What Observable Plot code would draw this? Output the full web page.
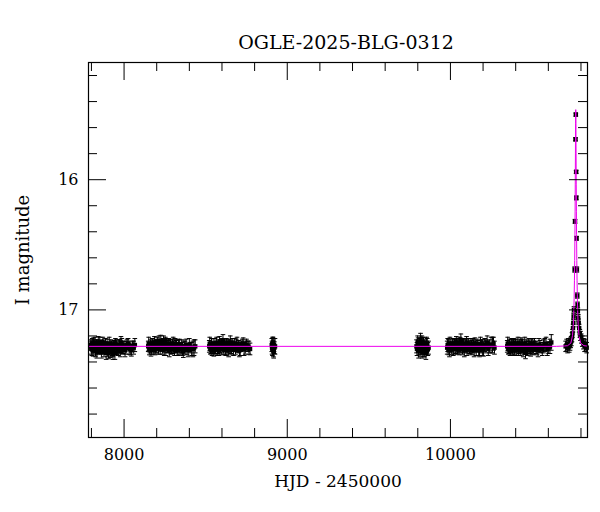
<!DOCTYPE html>
<html>
<head>
<meta charset="utf-8">
<script src="https://cdn.jsdelivr.net/npm/d3@7"></script>
<script src="https://cdn.jsdelivr.net/npm/@observablehq/plot@0.6"></script>
<style>
  html, body { margin: 0; padding: 0; background: white; }
</style>
</head>
<body>
<div id="chart"></div>
<script>
// ---- Data: [HJD-2450000, I mag, error] per observing season ----
const season1 = [
  [7796,17.27,.04],[7802,17.30,.05],[7808,17.28,.04],[7813,17.26,.045],[7819,17.29,.04],[7825,17.31,.05],[7831,17.27,.04],[7836,17.29,.035],[7842,17.25,.045],[7848,17.30,.04],
  [7855,17.28,.04],[7861,17.32,.05],[7867,17.27,.04],[7873,17.29,.045],[7880,17.30,.04],[7886,17.26,.04],[7893,17.28,.035],[7899,17.31,.05],[7905,17.33,.045],[7912,17.29,.04],
  [7919,17.27,.04],[7925,17.30,.05],[7932,17.34,.04],[7940,17.28,.045],[7947,17.26,.04],[7955,17.29,.05],[7963,17.31,.04],[7972,17.27,.04],[7981,17.25,.045],[7990,17.30,.04],
  [8000,17.28,.04],[8012,17.29,.05],[8025,17.26,.04],[8038,17.30,.045],[8052,17.28,.04],[8066,17.27,.05],
  [7799,17.29,.05],[7805,17.26,.04],[7810,17.31,.045],[7816,17.28,.05],[7822,17.25,.04],[7828,17.30,.045],[7833,17.32,.05],[7839,17.27,.04],[7845,17.29,.045],[7851,17.26,.05],
  [7858,17.30,.04],[7864,17.28,.045],[7870,17.25,.04],[7877,17.31,.05],[7883,17.29,.04],[7890,17.33,.05],[7896,17.27,.045],[7902,17.29,.04],[7909,17.26,.05],[7915,17.32,.045],
  [7922,17.28,.04],[7929,17.31,.05],[7936,17.29,.045],[7944,17.33,.05],[7951,17.27,.04],[7959,17.30,.045],[7968,17.28,.05],[7977,17.32,.04],[7986,17.27,.05],[7995,17.29,.045],
  [8006,17.31,.05],[8018,17.27,.045],[8031,17.29,.05],[8045,17.31,.045],[8059,17.29,.05]
];
const season2 = [
  [8148,17.28,.04],[8155,17.30,.045],[8162,17.27,.04],[8169,17.29,.05],[8176,17.26,.04],[8183,17.28,.04],[8190,17.30,.045],[8197,17.27,.04],[8204,17.25,.04],[8211,17.29,.05],
  [8218,17.27,.04],[8225,17.24,.045],[8232,17.28,.04],[8239,17.26,.04],[8246,17.30,.05],[8253,17.25,.04],[8260,17.27,.045],[8267,17.29,.04],[8274,17.26,.04],[8281,17.28,.05],
  [8289,17.30,.04],[8297,17.27,.045],[8305,17.29,.04],[8313,17.26,.04],[8321,17.28,.05],[8330,17.31,.04],[8339,17.27,.045],[8348,17.29,.04],[8358,17.30,.05],[8368,17.28,.04],
  [8380,17.27,.045],[8393,17.31,.05],[8407,17.29,.04],[8422,17.30,.06],[8436,17.28,.05],
  [8151,17.26,.05],[8158,17.29,.04],[8165,17.31,.045],[8172,17.27,.05],[8179,17.30,.04],[8186,17.25,.045],[8193,17.28,.05],[8200,17.29,.04],[8207,17.27,.045],[8214,17.25,.05],
  [8221,17.30,.04],[8228,17.27,.045],[8235,17.29,.05],[8242,17.24,.04],[8249,17.28,.045],[8256,17.30,.05],[8263,17.26,.04],[8270,17.28,.045],[8277,17.31,.05],[8285,17.27,.04],
  [8293,17.29,.045],[8301,17.26,.05],[8309,17.31,.04],[8317,17.28,.045],[8325,17.30,.05],[8334,17.27,.04],[8343,17.30,.045],[8353,17.28,.05],[8363,17.32,.045],[8374,17.29,.05],
  [8386,17.30,.045],[8400,17.27,.05],[8414,17.30,.05],[8429,17.29,.06]
];
const season3 = [
  [8522,17.28,.045],[8529,17.30,.04],[8536,17.27,.05],[8543,17.29,.04],[8550,17.31,.045],[8557,17.26,.04],[8564,17.28,.04],[8571,17.30,.05],[8578,17.27,.04],[8585,17.25,.045],
  [8592,17.29,.04],[8599,17.27,.04],[8606,17.24,.05],[8613,17.28,.04],[8620,17.30,.045],[8627,17.26,.04],[8634,17.28,.04],[8641,17.31,.05],[8648,17.27,.04],[8655,17.29,.045],
  [8663,17.26,.04],[8671,17.30,.05],[8679,17.28,.04],[8688,17.27,.045],[8697,17.29,.04],[8707,17.31,.05],[8718,17.28,.04],[8730,17.26,.045],[8743,17.29,.05],[8758,17.28,.04],[8772,17.30,.045],
  [8525,17.26,.05],[8532,17.29,.045],[8539,17.31,.04],[8546,17.27,.05],[8553,17.29,.045],[8560,17.30,.04],[8567,17.26,.05],[8574,17.29,.045],[8581,17.31,.04],[8588,17.28,.05],
  [8595,17.30,.045],[8602,17.26,.04],[8609,17.29,.05],[8616,17.27,.045],[8623,17.31,.04],[8630,17.29,.05],[8637,17.27,.045],[8644,17.29,.04],[8651,17.25,.05],[8659,17.30,.045],
  [8667,17.28,.04],[8675,17.27,.05],[8683,17.30,.045],[8692,17.26,.05],[8702,17.28,.045],[8712,17.30,.05],[8724,17.27,.045],[8736,17.30,.05],[8750,17.27,.045],[8765,17.29,.05]
];
const season4 = [
  [8905,17.27,.05],[8909,17.30,.05],[8913,17.25,.04],[8917,17.32,.05],[8921,17.29,.045],[8925,17.28,.06],
  [8907,17.29,.05],[8911,17.26,.05],[8915,17.31,.05],[8919,17.27,.05]
];
const season5 = [
  [9792,17.28,.05],[9799,17.25,.05],[9805,17.31,.06],[9811,17.27,.05],[9817,17.23,.05],[9822,17.29,.055],[9827,17.32,.05],[9832,17.26,.05],[9837,17.30,.06],[9843,17.28,.05],
  [9850,17.33,.05],[9858,17.27,.05],[9866,17.29,.05],
  [9795,17.30,.05],[9802,17.27,.055],[9808,17.29,.05],[9814,17.31,.05],[9819,17.27,.06],[9825,17.25,.05],[9830,17.29,.05],[9835,17.27,.055],[9840,17.31,.05],[9846,17.29,.05],
  [9854,17.26,.05],[9862,17.30,.05]
];
const season6 = [
  [9980,17.29,.05],[9987,17.27,.045],[9994,17.31,.05],[10001,17.28,.04],[10008,17.30,.045],[10015,17.26,.04],[10022,17.29,.05],[10029,17.27,.04],[10036,17.25,.045],[10043,17.30,.04],
  [10050,17.28,.04],[10057,17.26,.05],[10064,17.23,.045],[10071,17.29,.04],[10078,17.27,.04],[10085,17.31,.05],[10092,17.28,.04],[10099,17.25,.045],[10106,17.29,.04],[10113,17.27,.05],
  [10121,17.30,.04],[10129,17.28,.045],[10137,17.26,.04],[10145,17.31,.05],[10154,17.28,.04],[10163,17.27,.045],[10173,17.30,.05],[10184,17.26,.05],[10196,17.29,.06],[10210,17.27,.05],
  [10225,17.25,.05],[10240,17.28,.05],[10258,17.27,.06],[10270,17.29,.05],
  [9983,17.27,.05],[9990,17.30,.045],[9997,17.26,.05],[10004,17.29,.04],[10011,17.27,.045],[10018,17.30,.05],[10025,17.26,.04],[10032,17.29,.045],[10039,17.28,.05],[10046,17.26,.04],
  [10053,17.30,.045],[10060,17.28,.05],[10067,17.26,.04],[10074,17.30,.045],[10081,17.27,.05],[10088,17.29,.04],[10095,17.27,.045],[10102,17.30,.05],[10109,17.26,.04],[10117,17.29,.045],
  [10125,17.27,.05],[10133,17.30,.045],[10141,17.28,.05],[10150,17.26,.045],[10158,17.30,.05],[10168,17.28,.045],[10178,17.31,.05],[10190,17.28,.05],[10203,17.30,.055],[10217,17.28,.05],
  [10232,17.30,.05],[10249,17.27,.06],[10264,17.26,.05]
];
const season7 = [
  [10348,17.28,.045],[10355,17.30,.04],[10362,17.27,.045],[10369,17.29,.04],[10376,17.26,.04],[10383,17.28,.05],[10390,17.31,.04],[10397,17.27,.045],[10404,17.29,.04],[10411,17.28,.04],
  [10418,17.30,.05],[10425,17.27,.04],[10432,17.26,.045],[10439,17.29,.04],[10446,17.31,.05],[10453,17.28,.04],[10460,17.33,.045],[10468,17.27,.04],[10476,17.29,.05],[10484,17.28,.04],
  [10492,17.31,.045],[10501,17.26,.04],[10510,17.29,.05],[10520,17.28,.04],[10531,17.30,.045],[10543,17.27,.05],[10556,17.29,.04],[10570,17.28,.05],[10586,17.26,.05],[10602,17.29,.045],[10618,17.25,.06],
  [10351,17.26,.05],[10358,17.29,.045],[10365,17.31,.04],[10372,17.28,.05],[10379,17.30,.045],[10386,17.26,.04],[10393,17.29,.05],[10400,17.27,.045],[10407,17.31,.04],[10414,17.26,.05],
  [10421,17.29,.045],[10428,17.31,.04],[10435,17.28,.05],[10442,17.27,.045],[10449,17.30,.04],[10456,17.26,.05],[10464,17.29,.045],[10472,17.31,.04],[10480,17.27,.05],[10488,17.29,.045],
  [10496,17.28,.05],[10505,17.30,.045],[10515,17.27,.05],[10525,17.29,.045],[10537,17.31,.05],[10549,17.28,.045],[10563,17.30,.05],[10578,17.27,.05],[10594,17.30,.05],[10610,17.28,.055]
];
const seasonEvent = [
  [10706,17.28,.04],[10712,17.27,.045],[10718,17.29,.04],[10723,17.26,.04],[10728,17.28,.045],[10733,17.27,.04],[10737,17.25,.04],[10741,17.24,.035],[10745,17.21,.035],[10748,17.18,.03],
  [10751,17.14,.03],[10753,17.10,.03],[10755,17.05,.025],[10757,17.00,.025],
  [10761,16.69,.02],[10763.5,16.32,.015],[10766.5,15.69,.012],[10768.5,15.50,.012],[10770.5,15.94,.012],[10771.5,16.14,.015],[10773,16.45,.015],[10775,16.69,.02],[10777.5,16.89,.02],[10779,16.96,.02],
  [10781,17.01,.025],[10783,17.06,.025],[10786,17.10,.03],[10789,17.14,.03],[10793,17.18,.03],[10797,17.20,.035],[10802,17.22,.035],[10808,17.24,.04],[10815,17.26,.04],[10822,17.28,.04],[10829,17.27,.045],[10835,17.29,.04]
];
// Model light curve
const modelT = [7782, 10650, 10700, 10718, 10738, 10748, 10753, 10755.5, 10758, 10760, 10761.5, 10763, 10764, 10765, 10766, 10767, 10768,
                10769, 10770, 10771, 10772, 10773, 10774.5, 10776, 10778, 10780.5, 10783, 10788, 10798, 10818, 10840];
const modelM = [17.28, 17.28, 17.277, 17.275, 17.255, 17.198, 17.114, 17.037, 16.916, 16.772, 16.621, 16.419, 16.247, 16.040, 15.802, 15.571, 15.462,
                15.571, 15.802, 16.040, 16.247, 16.419, 16.621, 16.772, 16.916, 17.037, 17.114, 17.198, 17.255, 17.275, 17.278];
// Axis ticks and labels
const xMajor = [8000, 9000, 10000];
const xMinor = [7800, 8200, 8400, 8600, 8800, 9200, 9400, 9600, 9800, 10200, 10400, 10600, 10800];
const yMajor = [16, 17];
const yMinor = [15.2, 15.4, 15.6, 15.8, 16.2, 16.4, 16.6, 16.8, 17.2, 17.4, 17.6, 17.8];
const titleText = "OGLE-2025-BLG-0312";
const xLabel = "HJD - 2450000";
const yLabel = "I magnitude";

// ---- Build ----
const obs = [season1, season2, season3, season4, season5, season6, season7, seasonEvent]
  .flat().map(([t, m, e]) => ({t, m, e}));
const model = modelT.map((t, i) => ({t, m: modelM[i]}));

const W = 600, H = 512, mL = 88, mR = 13, mT = 62, mB = 75;
const fw = W - mL - mR, fh = H - mT - mB;
const majLen = 18, minLen = 9;

const cap = {
  draw(ctx, size) {
    const w = Math.sqrt(size) / 2;
    ctx.moveTo(-w, 0);
    ctx.lineTo(w, 0);
  }
};

const chart = Plot.plot({
  width: W, height: H,
  marginLeft: mL, marginRight: mR, marginTop: mT, marginBottom: mB,
  style: {fontFamily: "DejaVu Serif", fontSize: "16px", background: "white", color: "black"},
  x: {domain: [7782, 10840]},
  y: {domain: [15.1, 17.98], reverse: true},
  marks: [
    // error bars
    Plot.ruleX(obs, {x: "t", y1: d => d.m - d.e, y2: d => d.m + d.e, stroke: "black", strokeWidth: 1}),
    Plot.dot(obs, {x: "t", y: d => d.m - d.e, symbol: cap, r: 2.6, fill: "none", stroke: "black", strokeWidth: 1}),
    Plot.dot(obs, {x: "t", y: d => d.m + d.e, symbol: cap, r: 2.6, fill: "none", stroke: "black", strokeWidth: 1}),
    // points
    Plot.dot(obs, {x: "t", y: "m", symbol: "square", r: 2.5, fill: "black", stroke: "none"}),
    // model
    Plot.line(model, {x: "t", y: "m", stroke: "#ee00ee", strokeWidth: 1}),
    // frame
    Plot.frame({stroke: "black", strokeWidth: 1.2}),
    // inward ticks, bottom & top
    Plot.tickX(xMajor, {x: d => d, insetTop: fh - majLen, stroke: "black"}),
    Plot.tickX(xMajor, {x: d => d, insetBottom: fh - majLen, stroke: "black"}),
    Plot.tickX(xMinor, {x: d => d, insetTop: fh - minLen, stroke: "black"}),
    Plot.tickX(xMinor, {x: d => d, insetBottom: fh - minLen, stroke: "black"}),
    // inward ticks, left & right
    Plot.tickY(yMajor, {y: d => d, insetRight: fw - majLen, stroke: "black"}),
    Plot.tickY(yMajor, {y: d => d, insetLeft: fw - majLen, stroke: "black"}),
    Plot.tickY(yMinor, {y: d => d, insetRight: fw - minLen, stroke: "black"}),
    Plot.tickY(yMinor, {y: d => d, insetLeft: fw - minLen, stroke: "black"}),
    // tick labels
    Plot.axisX({ticks: xMajor, tickSize: 0, tickPadding: 11, tickFormat: d => String(d), label: null}),
    Plot.axisY({ticks: yMajor, tickSize: 0, tickPadding: 10, tickFormat: d => String(d), label: null}),
    // titles
    Plot.text([titleText], {frameAnchor: "top", text: d => d, dy: -27, dx: 8, fontSize: 19}),
    Plot.text([xLabel], {frameAnchor: "bottom", text: d => d, dy: 49, fontSize: 17}),
    Plot.text([yLabel], {frameAnchor: "left", text: d => d, dx: -65, rotate: -90, textAnchor: "middle", fontSize: 18})
  ]
});
document.getElementById("chart").appendChild(chart);
</script>
</body>
</html>
